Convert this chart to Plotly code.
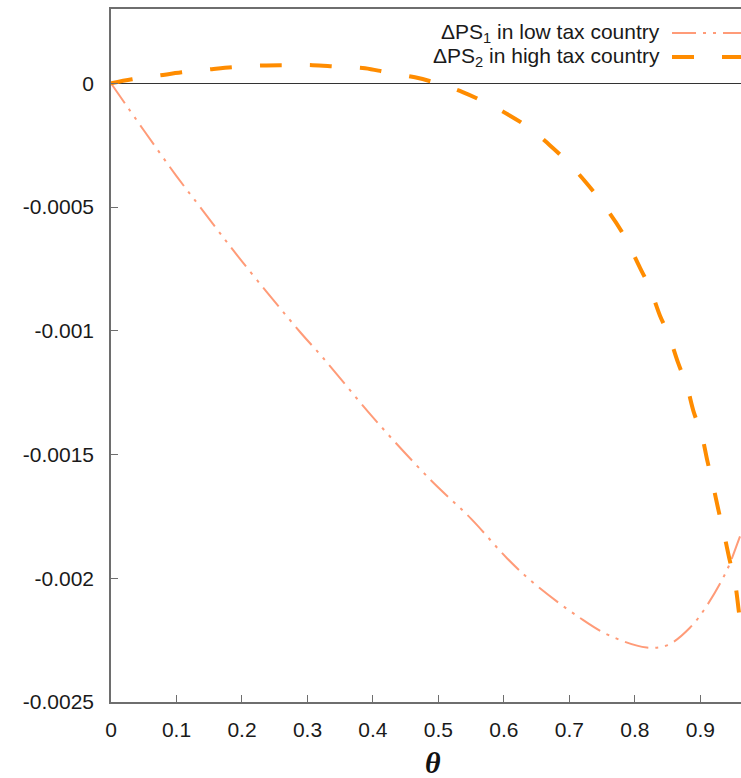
import plotly.graph_objects as go

# Data
theta1 = [0, 0.05, 0.1, 0.136, 0.2, 0.289, 0.324, 0.4, 0.487, 0.55, 0.605, 0.65,
          0.716, 0.76, 0.818, 0.85, 0.884, 0.91, 0.94, 0.962, 0.975]
dps1 = [0, -0.000190, -0.000375, -0.0005, -0.00072, -0.001006, -0.00111, -0.00135,
        -0.00160, -0.00176, -0.00192, -0.00203, -0.00216, -0.00223, -0.00228,
        -0.00227, -0.00220, -0.00211, -0.00197, -0.00182, -0.00173]

theta2 = [0, 0.032, 0.075, 0.108, 0.154, 0.186, 0.232, 0.266, 0.308, 0.345, 0.388,
          0.421, 0.464, 0.498, 0.537, 0.571, 0.608, 0.637, 0.670, 0.696, 0.725,
          0.747, 0.78, 0.808, 0.823, 0.838, 0.852, 0.866, 0.879, 0.890, 0.901,
          0.911, 0.919, 0.928, 0.936, 0.945, 0.953, 0.959, 0.965, 0.975]
dps2 = [0, 0.000016, 0.000032, 0.000044, 0.000057, 0.000065, 0.000072, 0.000073,
        0.000073, 0.000067, 0.000061, 0.000044, 0.000024, 0.0, -0.000036,
        -0.000077, -0.000129, -0.000178, -0.00025, -0.000315, -0.0004, -0.000473,
        -0.0006, -0.000747, -0.000828, -0.000937, -0.00102, -0.00113, -0.00122,
        -0.00133, -0.00141, -0.00153, -0.00162, -0.00173, -0.00182, -0.00193,
        -0.00202, -0.00214, -0.00225, -0.0025]

x_ticks = [0, 0.1, 0.2, 0.3, 0.4, 0.5, 0.6, 0.7, 0.8, 0.9]
x_tick_labels = ["0", "0.1", "0.2", "0.3", "0.4", "0.5", "0.6", "0.7", "0.8", "0.9"]
y_ticks = [0, -0.0005, -0.001, -0.0015, -0.002, -0.0025]
y_tick_labels = ["0", "-0.0005", "-0.001", "-0.0015", "-0.002", "-0.0025"]

names = ["ΔPS<sub>1</sub> in low tax country", "ΔPS<sub>2</sub> in high tax country"]
x_title = "<b><i>θ</i></b>"

C1 = "#FF9B78"
C2 = "#FF8C00"
DASH1 = "24px,7px,3px,7px,3px,7px"
DASH2 = "22px,28px"

fig = go.Figure()
fig.add_trace(go.Scatter(x=theta1, y=dps1, mode="lines", name=names[0],
                         line=dict(color=C1, width=2, dash=DASH1, shape="spline"),
                         showlegend=False))
fig.add_trace(go.Scatter(x=theta2, y=dps2, mode="lines", name=names[1],
                         line=dict(color=C2, width=4, dash=DASH2, shape="spline"),
                         showlegend=False))

axis_color = "#6e6e6e"
font_main = "Liberation Sans, Arial, sans-serif"
FS = 21

fig.update_layout(
    width=741, height=778,
    margin=dict(l=111, r=0, t=9, b=76, autoexpand=False),
    paper_bgcolor="white", plot_bgcolor="white",
    font=dict(family=font_main, size=FS, color="#1a1a1a"),
    xaxis=dict(range=[0, 0.962], tickvals=x_ticks, ticktext=x_tick_labels,
               ticks="inside", ticklen=7, tickcolor=axis_color, tickwidth=1,
               showline=True, linecolor=axis_color, linewidth=1.5, mirror=True,
               showgrid=False, zeroline=False, ticklabelstandoff=8),
    yaxis=dict(range=[-0.0025, 0.0003], tickvals=y_ticks, ticktext=y_tick_labels,
               ticks="inside", ticklen=7, tickcolor=axis_color, tickwidth=1,
               showline=True, linecolor=axis_color, linewidth=1.5, mirror=False,
               showgrid=False, zeroline=True, zerolinecolor="#333333",
               zerolinewidth=1, ticklabelstandoff=11),
)

# Axis title (centred on the full, uncropped axis)
fig.add_annotation(xref="paper", yref="paper", x=0.511, y=-0.088, text=x_title,
                   showarrow=False, xanchor="center", yanchor="middle",
                   font=dict(family="Liberation Serif, Times New Roman, serif",
                             size=30, color="#111"))

# Legend (text right-aligned, sample line to the right)
leg_y = [0.9654, 0.9307]
for name, yy, col, w, d in [(names[0], leg_y[0], C1, 2, DASH1),
                            (names[1], leg_y[1], C2, 4, DASH2)]:
    fig.add_annotation(xref="paper", yref="paper", x=0.8746, y=yy, text=name,
                       showarrow=False, xanchor="right", yanchor="middle",
                       font=dict(family=font_main, size=FS, color="#1a1a1a"))
    fig.add_shape(type="line", xref="paper", yref="paper", x0=0.8905, x1=1.0,
                  y0=yy, y1=yy, line=dict(color=col, width=w, dash=d))

fig.write_html("out.html", config={"displayModeBar": False},
               post_script="document.body.style.margin='0';document.body.style.overflow='hidden';")
